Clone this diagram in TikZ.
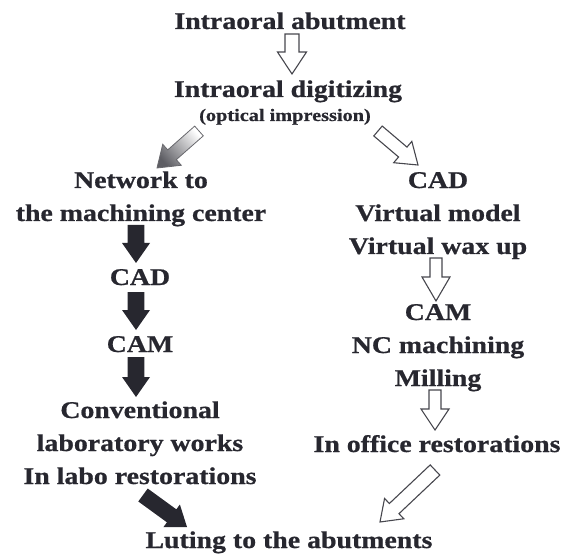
\documentclass[tikz,border=0pt]{standalone}
\usepackage{fontspec}
\setmainfont{Liberation Serif}[FakeStretch=1.16, BoldFeatures={FakeBold=0.7}]
\usetikzlibrary{calc}
\definecolor{ink}{HTML}{27272F}
\tikzset{
  lbl/.style={font=\bfseries\fontsize{24}{33}\selectfont, text=ink,
              anchor=base, inner sep=0pt, align=center},
  sublbl/.style={lbl, font=\bfseries\fontsize{17.5}{20}\selectfont},
  hollow/.style={draw=ink!85, line width=1.1pt, fill=white, line join=miter},
  solid/.style={fill=ink, draw=none},
  faded/.style={draw=ink!70, line width=0.8pt, top color=white,
                bottom color=ink!75, shading angle=-48.5},
}
% block arrow: style, tail, tip, half shaft width, half head width, head length
\newcommand\blockarrow[6]{%
  \coordinate (neck) at ($(#3)!#6!(#2)$);
  \path[#1] ($(#2)!#4!90:(#3)$) -- ($(neck)!#4!-90:(#2)$)
    -- ($(neck)!#5!-90:(#2)$) -- (#3) -- ($(neck)!#5!90:(#2)$)
    -- ($(neck)!#4!90:(#2)$) -- ($(#2)!#4!-90:(#3)$) -- cycle;
}
\begin{document}
\begin{tikzpicture}[x=1pt, y=-1pt]
\useasboundingbox (0,0) rectangle (565,556);

% labels (multi-line nodes sit on the baseline of their last line)
\node[lbl] (abut) at (290,29) {Intraoral abutment};
\node[lbl] (digit) at (288,97) {Intraoral digitizing};
\node[sublbl] (optic) at (285,121) {(optical impression)};
\node[lbl] (network) at (141,221) {Network to\\the machining center};
\node[lbl] (cadR) at (438,254) {CAD\\Virtual model\\Virtual wax up};
\node[lbl] (cadL) at (140,285) {CAD};
\node[lbl] (camL) at (140,352) {CAM};
\node[lbl] (conv) at (140,484) {Conventional\\laboratory works\\In labo restorations};
\node[lbl] (camR) at (438,386) {CAM\\NC machining\\Milling};
\node[lbl] (office) at (437,452) {In office restorations};
\node[lbl] (lute) at (289,548) {Luting to the abutments};

% arrow end points
\coordinate (a1s) at (292,34);  \coordinate (a1e) at (292,74);
\coordinate (a2s) at (199,131); \coordinate (a2e) at (157,168);
\coordinate (a3s) at (378,131); \coordinate (a3e) at (418,165);
\coordinate (a4s) at (136,225); \coordinate (a4e) at (136,263);
\coordinate (a5s) at (136,292); \coordinate (a5e) at (136,330);
\coordinate (a6s) at (136,357); \coordinate (a6e) at (136,397);
\coordinate (a7s) at (436,258); \coordinate (a7e) at (436,301);
\coordinate (a8s) at (435,390); \coordinate (a8e) at (435,430);
\coordinate (a9s) at (143,495); \coordinate (a9e) at (187,527);
\coordinate (a10s) at (435,470); \coordinate (a10e) at (380,522);

% arrows
\blockarrow{hollow}{a1s}{a1e}{7pt}{14.5pt}{22pt}
\blockarrow{faded}{a2s}{a2e}{6.5pt}{14pt}{20pt}
\blockarrow{hollow}{a3s}{a3e}{6.5pt}{14pt}{20pt}
\blockarrow{solid}{a4s}{a4e}{8.3pt}{14pt}{20pt}
\blockarrow{solid}{a5s}{a5e}{8.3pt}{14pt}{20pt}
\blockarrow{solid}{a6s}{a6e}{8.3pt}{14pt}{20pt}
\blockarrow{hollow}{a7s}{a7e}{6pt}{14pt}{24pt}
\blockarrow{hollow}{a8s}{a8e}{6pt}{14pt}{21pt}
\blockarrow{solid}{a9s}{a9e}{8pt}{14pt}{19pt}
\blockarrow{hollow}{a10s}{a10e}{7pt}{14pt}{19.5pt}
\end{tikzpicture}
\end{document}
